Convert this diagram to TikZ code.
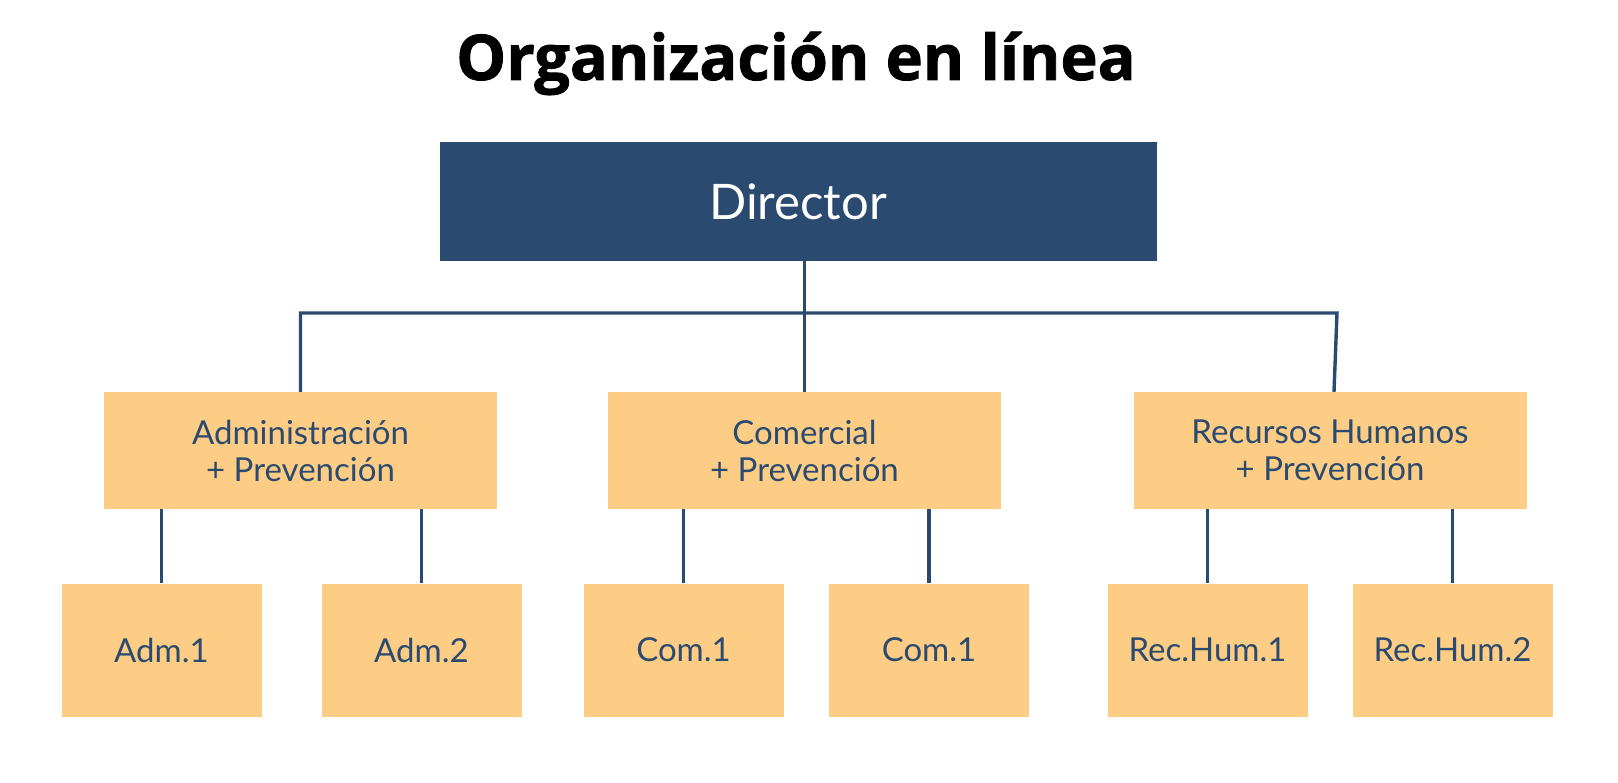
\documentclass[tikz,border=0pt]{standalone}
\usepackage{fontspec}
\setmainfont{Lato}
\newfontfamily\titlefont[BoldFeatures={FakeBold=1.3}]{Open Sans}
\usepackage{tikz}

\definecolor{orgblue}{HTML}{2B4A6F}
\definecolor{orgorange}{HTML}{FDCD85}

\begin{document}
\begin{tikzpicture}[
			x=1pt, y=-1pt,
			every node/.style={font=\fontsize{33}{37}\selectfont, text=orgblue},
			headbox/.style={rectangle, minimum width=717pt, minimum height=119pt, inner sep=0pt, fill=orgblue, text=white, font=\fontsize{49}{55}\selectfont},
			deptbox/.style={rectangle, minimum width=393pt, minimum height=117pt, inner sep=0pt, align=center, fill=orgorange},
			unitbox/.style={rectangle, minimum width=200pt, minimum height=133pt, inner sep=0pt, fill=orgorange},
			link/.style={draw=orgblue, line width=3.4pt}
		]
		\useasboundingbox (0,0) rectangle (1618,783);

		% Title
		\node (title) [anchor=base, text=black, font=\titlefont\bfseries\fontsize{63}{70}\selectfont] at (796,80) {Organización en línea};

		% Nodes
		\node (dir) [headbox] at (798,201.5) {Director};

		\node (adm) [deptbox] at (300.5,450.5) {Administración\\+ Prevención};
		\node (com) [deptbox] at (804.5,450.5) {Comercial\\+ Prevención};
		\node (rh) [deptbox] at (1330,450.5) {Recursos Humanos\\+ Prevención};

		\node (adm1) [unitbox] at (161.5,650) {Adm.1};
		\node (adm2) [unitbox] at (421.5,650) {Adm.2};
		\node (com1) [unitbox] at (683.5,650) {Com.1};
		\node (com2) [unitbox] at (929,650) {Com.1};
		\node (rh1) [unitbox] at (1207.5,650) {Rec.Hum.1};
		\node (rh2) [unitbox] at (1452.5,650) {Rec.Hum.2};

		\coordinate (bar) at (804.5,313);

		% Connections
		\draw [link] (com.north |- dir.south) -- (com.north);
		\draw [link] (adm.north) -- (adm.north |- bar) -- ([xshift=7pt]rh.north |- bar) -- ([xshift=4pt]rh.north);

		\draw [link] (adm1.north) -- (adm1.north |- adm.south);
		\draw [link] (adm2.north) -- (adm2.north |- adm.south);
		\draw [link] (com1.north) -- (com1.north |- com.south);
		\draw [link] (com2.north) -- (com2.north |- com.south);
		\draw [link] (rh1.north) -- (rh1.north |- rh.south);
		\draw [link] (rh2.north) -- (rh2.north |- rh.south);

	\end{tikzpicture}
\end{document}
